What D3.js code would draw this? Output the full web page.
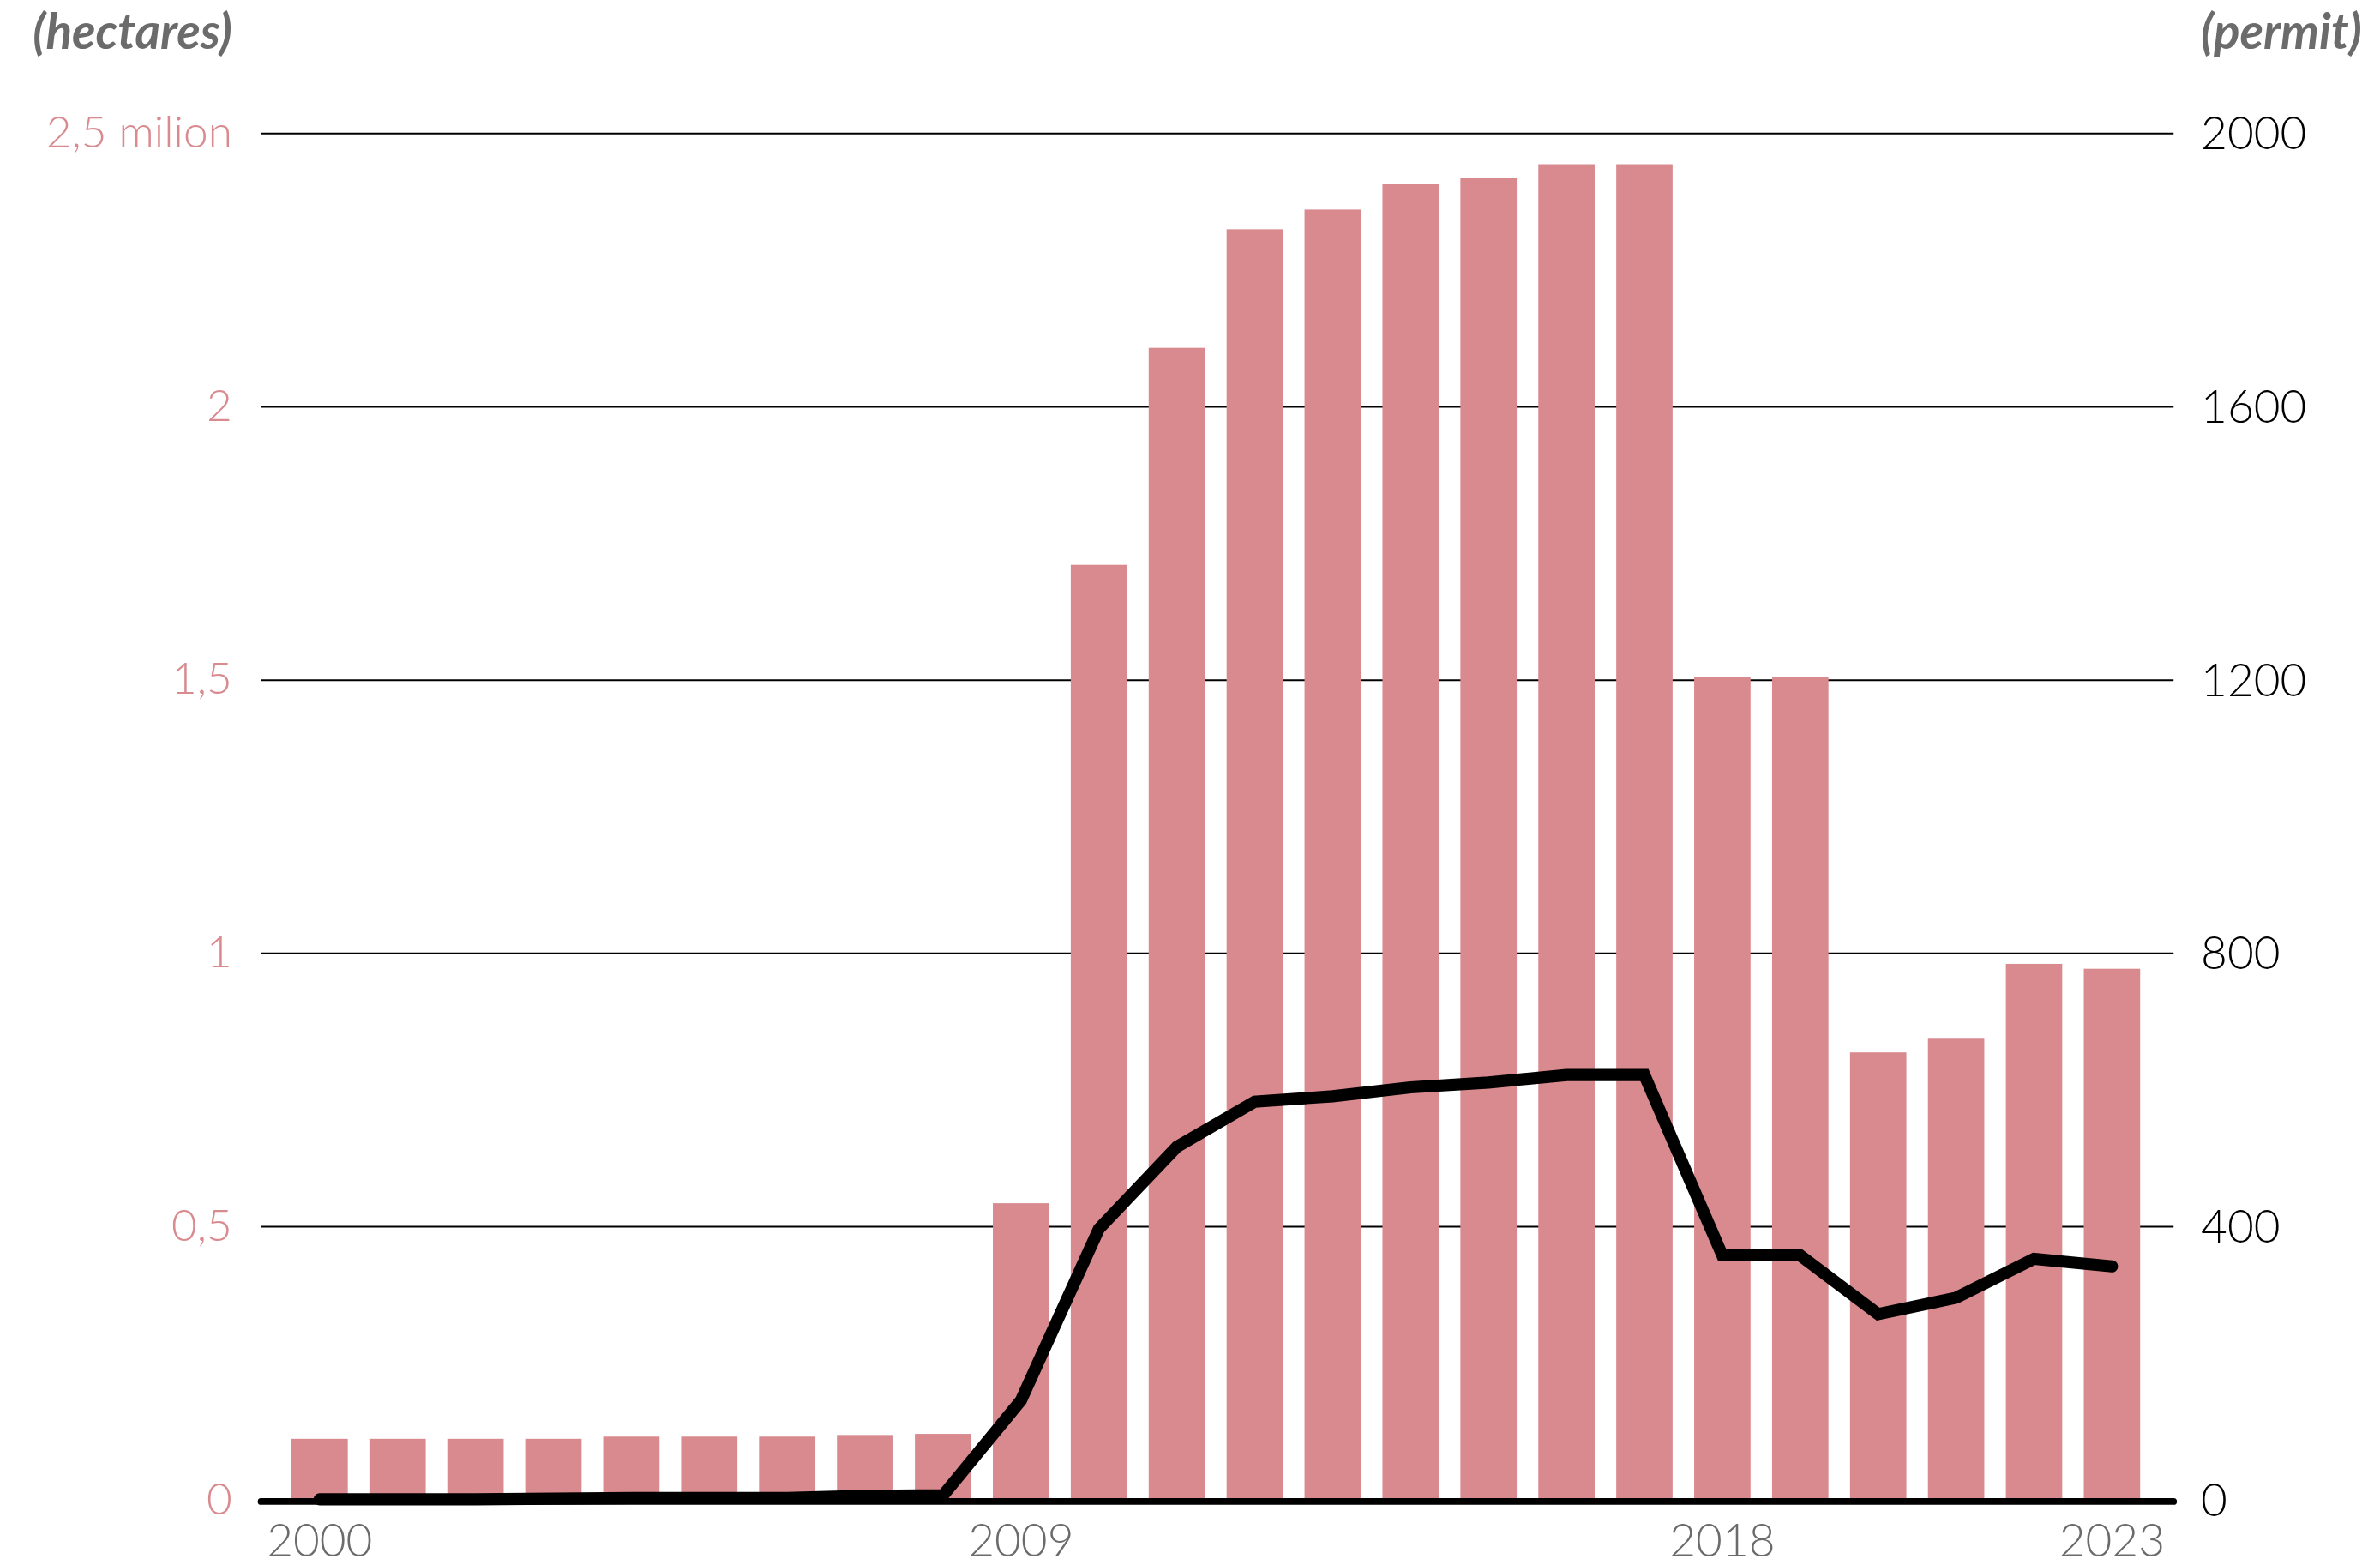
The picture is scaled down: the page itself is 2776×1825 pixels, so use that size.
<!DOCTYPE html>
<html>
<head>
<meta charset="utf-8">
<script src="https://cdn.jsdelivr.net/npm/d3@7"></script>
<style>
  html, body { margin: 0; padding: 0; background: #fff; }
  svg { display: block; }
  .tick-left { fill: #d98a8f; font-family: Lato, "Open Sans", sans-serif; font-weight: 300; font-size: 29px; }
  .tick-right { fill: #000; font-family: Lato, "Open Sans", sans-serif; font-weight: 300; font-size: 30px; }
  .year { fill: #6b6b6b; font-family: Lato, "Open Sans", sans-serif; font-weight: 300; font-size: 30px; }
  .unit { fill: #6b6b6b; font-family: Lato, "Open Sans", sans-serif; font-weight: 700; font-style: italic; font-size: 32px; }
</style>
</head>
<body>
<svg id="chart"></svg>
<script>
// years on the x axis
const years = d3.range(2000, 2024);
// land area, million hectares (bars)
const hectares = [0.112, 0.112, 0.112, 0.112, 0.116, 0.116, 0.116, 0.119, 0.121,
  0.543, 1.711, 2.108, 2.325, 2.361, 2.408, 2.419, 2.444, 2.444,
  1.506, 1.506, 0.819, 0.844, 0.981, 0.972];
// number of permits (line)
const permits = [1, 1, 1, 2, 3, 3, 3, 6, 7,
  146, 397, 517, 583, 591, 604, 611, 622, 622,
  358, 358, 272, 296, 353, 342];

const leftTicks = [0, 0.5, 1, 1.5, 2, 2.5];
const leftLabels = ["0", "0,5", "1", "1,5", "2", "2,5 milion"];
const rightTicks = [0, 400, 800, 1200, 1600, 2000];
const yearLabels = [2000, 2009, 2018, 2023];

// drawn in a 1568-wide space, scaled up to the window
const W = 1568, H = 1030.8;
const svg = d3.select("#chart")
  .attr("width", 2776)
  .attr("height", 1825)
  .attr("viewBox", `0 0 ${W} ${H}`);

const x = d3.scaleBand()
  .domain(years)
  .range([172, 1430])
  .paddingInner(0.277)
  .paddingOuter(0.39);

const yL = d3.scaleLinear().domain([0, 2.5]).range([988, 88]);
const yR = d3.scaleLinear().domain([0, 2000]).range([988, 88]);

// gridlines
svg.append("g")
  .selectAll("line")
  .data(leftTicks.filter(d => d > 0))
  .join("line")
  .attr("x1", 172)
  .attr("x2", 1432)
  .attr("y1", d => yL(d))
  .attr("y2", d => yL(d))
  .attr("stroke", "#000")
  .attr("stroke-width", 1.1);

// bars
svg.append("g")
  .selectAll("rect")
  .data(years)
  .join("rect")
  .attr("x", d => x(d))
  .attr("width", x.bandwidth())
  .attr("y", (d, i) => yL(hectares[i]))
  .attr("height", (d, i) => yL(0) - yL(hectares[i]))
  .attr("fill", "#d88a8e");

// baseline
svg.append("line")
  .attr("x1", 172)
  .attr("x2", 1432)
  .attr("y1", yL(0) + 1)
  .attr("y2", yL(0) + 1)
  .attr("stroke", "#000")
  .attr("stroke-width", 4.4)
  .attr("stroke-linecap", "round");

// permits line
const line = d3.line()
  .x((d, i) => x(years[i]) + x.bandwidth() / 2)
  .y(d => yR(d));

svg.append("path")
  .datum(permits)
  .attr("d", line)
  .attr("fill", "none")
  .attr("stroke", "#000")
  .attr("stroke-width", 8)
  .attr("stroke-linecap", "round")
  .attr("stroke-linejoin", "miter");

// left axis labels
svg.append("g")
  .selectAll("text")
  .data(leftTicks)
  .join("text")
  .attr("class", "tick-left")
  .attr("x", 153)
  .attr("y", d => yL(d) + 2)
  .attr("text-anchor", "end")
  .attr("dominant-baseline", "middle")
  .text((d, i) => leftLabels[i]);

// right axis labels
svg.append("g")
  .selectAll("text")
  .data(rightTicks)
  .join("text")
  .attr("class", "tick-right")
  .attr("x", 1450)
  .attr("y", d => yR(d) + 3)
  .attr("text-anchor", "start")
  .attr("dominant-baseline", "middle")
  .text(d => d);

// year labels
svg.append("g")
  .selectAll("text")
  .data(yearLabels)
  .join("text")
  .attr("class", "year")
  .attr("x", d => x(d) + x.bandwidth() / 2)
  .attr("y", 1025)
  .attr("text-anchor", "middle")
  .text(d => d);

// unit titles
svg.append("text")
  .attr("class", "unit")
  .attr("x", 153)
  .attr("y", 32)
  .attr("text-anchor", "end")
  .text("(hectares)");

svg.append("text")
  .attr("class", "unit")
  .attr("x", 1450)
  .attr("y", 32)
  .attr("text-anchor", "start")
  .text("(permit)");
</script>
</body>
</html>
